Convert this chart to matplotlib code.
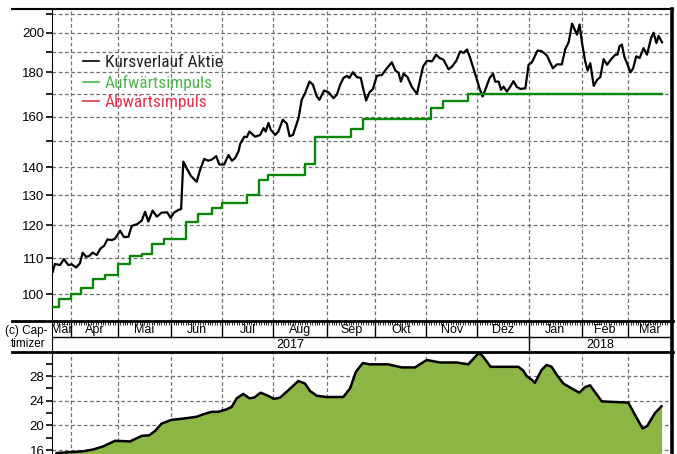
import matplotlib
matplotlib.use('Agg')
import matplotlib.pyplot as plt
from matplotlib.lines import Line2D
from matplotlib.ticker import FixedLocator, NullFormatter, FuncFormatter

month_labels = ['Mär', 'Apr', 'Mai', 'Jun', 'Jul', 'Aug', 'Sep', 'Okt', 'Nov', 'Dez', 'Jan', 'Feb', 'Mär']
month_days = [8, 19, 22, 21, 21, 22, 20, 21, 21, 21, 22, 19, 18]  # trading days per month
year_labels = ['2017', '2018']
year_months = [10, 3]

# stock price (trading day index, value)
price_day = [0.3, 1.2, 3.3, 4.9, 6.7, 8.1, 9.9, 11.5, 12.6, 14.0, 15.3, 16.7, 18.4, 20.0, 21.4,
             22.8, 24.6, 25.9, 28.0, 29.6, 31.4, 32.8, 35.1, 36.9, 38.3, 39.6, 41.4, 43.1, 45.1,
             47.4, 48.8, 50.2, 52.0, 53.1, 54.0, 55.4, 57.1, 59.5, 60.9, 62.6, 64.3, 66.0, 67.5,
             68.8, 70.8, 72.6, 74.0, 75.3, 76.7, 77.4, 79.1, 80.1, 81.2, 83.5, 85.6, 87.0, 87.9,
             89.0, 90.0, 91.8, 93.1, 94.9, 96.6, 97.7, 99.1, 101.4, 102.7, 104.1, 105.9, 107.3,
             108.9, 110.0, 111.9, 113.7, 115.8, 117.2, 118.5, 119.9, 121.3, 122.3, 123.7, 125.4,
             127.0, 128.1, 129.2, 130.6, 132.0, 133.6, 135.7, 137.7, 139.8, 141.2, 142.5, 143.5,
             144.6, 146.2, 148.0, 150.1, 151.4, 152.6, 154.2, 156.3, 158.0, 159.4, 161.0, 163.1,
             164.5, 166.3, 167.9, 169.3, 170.7, 172.0, 173.1, 174.8, 175.8, 177.1, 178.2, 180.0,
             181.4, 182.3, 183.7, 184.7, 185.7, 187.1, 188.5, 189.8, 191.2, 192.6, 194.7, 196.0,
             197.4, 199.7, 201.5, 203.6, 206.0, 207.7, 209.7, 211.1, 212.5, 213.9, 215.9, 217.0,
             218.0, 219.3, 220.3, 221.4, 222.8, 224.2, 225.5, 226.9, 228.3, 230.0, 231.7, 232.6,
             233.4, 234.4, 235.4, 236.5, 237.9, 239.0, 240.3, 241.7, 243.3, 244.7, 246.4, 247.4,
             248.6, 249.5, 250.9]
price = [106.1, 108.3, 108.0, 109.7, 108.0, 108.2, 107.3, 108.5, 111.6, 110.4, 110.6, 111.6, 110.9,
         112.9, 113.6, 115.6, 115.4, 115.8, 118.3, 116.3, 116.4, 119.8, 120.4, 121.5, 124.4, 121.2,
         124.8, 122.8, 124.1, 124.2, 122.4, 124.1, 125.0, 125.3, 142.1, 139.6, 136.8, 134.7, 139.0,
         143.1, 142.4, 143.0, 144.2, 141.0, 141.0, 144.6, 142.4, 143.4, 146.0, 148.9, 151.8, 151.6,
         153.9, 151.8, 152.5, 155.3, 153.9, 157.4, 154.6, 152.5, 153.9, 158.8, 157.1, 152.0, 152.5,
         159.5, 167.4, 170.4, 175.7, 174.3, 168.9, 167.4, 171.6, 170.8, 168.1, 169.8, 174.2, 177.4,
         178.4, 177.4, 180.1, 177.8, 177.4, 171.9, 167.1, 170.8, 172.3, 178.4, 178.8, 182.0, 184.9,
         180.9, 179.9, 175.7, 179.4, 177.8, 173.2, 170.1, 176.5, 182.8, 185.7, 185.4, 188.7, 187.0,
         186.2, 181.5, 182.8, 185.7, 190.4, 189.6, 191.3, 187.0, 182.8, 176.5, 172.6, 168.9, 171.9,
         177.4, 179.4, 175.7, 175.7, 171.9, 173.4, 171.1, 173.4, 175.9, 173.2, 172.3, 172.6, 183.7,
         184.9, 190.8, 190.4, 188.2, 182.0, 183.9, 183.9, 191.5, 195.0, 204.9, 199.0, 204.4, 194.6,
         185.4, 180.9, 184.5, 173.7, 176.5, 177.8, 186.5, 183.7, 186.5, 188.7, 188.7, 193.0, 193.8,
         187.6, 184.5, 180.0, 182.0, 187.9, 187.0, 192.0, 188.7, 197.2, 200.0, 194.6, 198.3, 195.0]

# Aufwärtsimpuls (step line)
up_day = [0, 3, 8, 12, 17, 22, 27, 32, 37, 41, 46, 55, 60, 66, 70, 80, 85, 89, 104, 108, 123,
          128, 156, 161, 171, 251]
up_level = [96.7, 98.6, 100.0, 101.7, 104.1, 105.2, 108.3, 110.6, 111.2, 114.1, 115.6, 121.0,
            123.6, 125.6, 127.2, 130.0, 135.2, 137.1, 141.2, 151.5, 155.1, 159.0, 164.0, 166.9,
            170.1, 170.1]

# lower panel
low_day = [1.9, 5.3, 12.9, 17.0, 21.1, 25.9, 32.1, 36.9, 40.0, 42.4, 45.1, 49.2, 54.0, 59.5, 62.2,
           65.7, 68.4, 71.8, 73.9, 76.0, 78.7, 81.1, 83.1, 85.8, 88.3, 91.3, 93.8, 97.2, 101.3,
           104.0, 106.1, 108.9, 113.0, 119.8, 122.6, 125.0, 127.8, 130.8, 133.5, 138.3, 143.8,
           149.3, 154.1, 159.6, 166.4, 171.2, 175.7, 177.4, 180.4, 185.6, 191.8, 193.8, 195.2,
           197.3, 198.6, 201.4, 203.4, 205.5, 207.6, 210.3, 213.7, 216.9, 219.2, 221.3, 226.1,
           230.8, 237.0, 239.8, 242.9, 244.8, 248.0, 250.7]
low_vals = [15.5, 15.6, 15.8, 16.1, 16.6, 17.5, 17.4, 18.3, 18.4, 19.1, 20.3, 20.9, 21.1, 21.4,
            21.8, 22.2, 22.2, 22.6, 23.0, 24.4, 25.1, 24.4, 24.5, 25.3, 24.9, 24.3, 24.5, 25.7,
            27.2, 26.8, 25.6, 24.8, 24.6, 24.6, 26.0, 28.7, 30.1, 29.9, 29.9, 29.9, 29.4, 29.4,
            30.6, 30.2, 30.2, 29.9, 31.8, 31.1, 29.5, 29.5, 29.5, 28.9, 28.0, 27.4, 26.9, 29.0,
            29.8, 29.5, 28.2, 26.8, 26.0, 25.3, 26.2, 26.5, 23.9, 23.8, 23.7, 21.7, 19.5, 19.9,
            22.0, 23.1]

W, H = 677, 454
XL, XR = 52, 672
Y_TOP, Y_MID, Y_LOW = 9, 321, 352

bounds = [0]
for d in month_days:
    bounds.append(bounds[-1] + d)
x_max = bounds[-1]
inner = bounds[1:-1]

grid_kw = dict(color='#707070', linestyle=(0, (3, 2)), linewidth=0.9)
tick_font = 'Liberation Sans'
legend_font = ['Roboto Condensed', 'Liberation Sans Narrow', 'DejaVu Sans']


def fx(px):
    return px / W


def fy(py):
    return 1 - py / H


fig = plt.figure(figsize=(W / 100, H / 100), dpi=100)
ax = fig.add_axes([fx(XL), fy(Y_MID), fx(XR - XL), (Y_MID - Y_TOP) / H])
axt = fig.add_axes([fx(XL), fy(Y_LOW), fx(XR - XL), (Y_LOW - Y_MID) / H])
axl = fig.add_axes([fx(XL), 0, fx(XR - XL), fy(Y_LOW)])

# upper panel
ax.plot(price_day, price, color='black', lw=1.6, zorder=3)
ax.plot(up_day, up_level, color='#0a870a', lw=1.7, drawstyle='steps-post', zorder=3)
ax.set_yscale('log')
ax.set_xlim(0, x_max)
ax.set_ylim(93.1, 213)
ax.yaxis.set_major_locator(FixedLocator([100, 110, 120, 130, 140, 160, 180, 200]))
ax.yaxis.set_major_formatter(FuncFormatter(lambda v, p: '%d' % v))
ax.yaxis.set_minor_locator(FixedLocator([150, 170, 190, 210]))
ax.yaxis.set_minor_formatter(NullFormatter())
ax.set_xticks(inner)
ax.set_xticklabels([])
ax.tick_params(axis='x', length=0)
ax.tick_params(axis='y', which='both', direction='out', length=4, width=1.2,
               labelsize=9.5, pad=1.5)
for lab in ax.get_yticklabels():
    lab.set_fontfamily(tick_font)
ax.grid(True, which='both', axis='y', **grid_kw)
ax.grid(True, which='major', axis='x', **grid_kw)
for s in ['top', 'bottom']:
    ax.spines[s].set_visible(False)
ax.spines['right'].set_linewidth(2.6)

handles = [Line2D([], [], color='black', lw=1.2),
           Line2D([], [], color='#4cb84c', lw=1.2),
           Line2D([], [], color='#e8334a', lw=1.2)]
leg = ax.legend(handles, ['Kursverlauf Aktie', 'Aufwärtsimpuls', 'Abwärtsimpuls'],
                loc='upper left', bbox_to_anchor=(0.05, 0.852), frameon=False,
                handlelength=0.9, handletextpad=0.35, labelspacing=0.25, borderpad=0,
                borderaxespad=0, prop={'family': legend_font, 'size': 12.5})
for t, c in zip(leg.get_texts(), ['#222222', '#4cb84c', '#e8334a']):
    t.set_color(c)

# time band
axt.set_xlim(0, x_max)
axt.set_ylim(0, 2)
axt.axhline(1, color='black', lw=1)
for b in inner:
    axt.plot([b, b], [1, 2], color='black', lw=1)
for i, lab in enumerate(month_labels):
    axt.text((bounds[i] + bounds[i + 1]) / 2, 1.45, lab, ha='center', va='center',
             fontsize=9, family=tick_font)
m = 0
for lab, n in zip(year_labels, year_months):
    a, b = bounds[m], bounds[m + n]
    axt.text((a + b) / 2, 0.45, lab, ha='center', va='center', fontsize=9, family=tick_font)
    if m > 0:
        axt.plot([a, a], [0, 1], color='black', lw=1)
    m += n
axt.set_xticks(list(range(0, x_max + 1)), minor=True)
axt.set_xticks([])
axt.set_yticks([])
axt.tick_params(axis='x', which='minor', top=True, bottom=False, direction='in',
                length=3, width=0.6, labelbottom=False)
for s in ['top', 'bottom']:
    axt.spines[s].set_visible(False)
axt.spines['right'].set_linewidth(2.6)

# lower panel
axl.fill_between(low_day, low_vals, 0, color='#8cb545', lw=0, zorder=2)
axl.plot(low_day, low_vals, color='black', lw=1.8, zorder=3)
axl.set_xlim(0, x_max)
axl.set_ylim(15.36, 31.9)
axl.yaxis.set_major_locator(FixedLocator([16, 20, 24, 28]))
axl.yaxis.set_minor_locator(FixedLocator([18, 22, 26, 30]))
axl.set_xticks(inner)
axl.set_xticklabels([])
axl.tick_params(axis='x', length=0)
axl.tick_params(axis='y', which='both', direction='out', length=4, width=1.2,
                labelsize=9.5, pad=1.5)
for lab in axl.get_yticklabels():
    lab.set_fontfamily(tick_font)
axl.grid(True, which='major', axis='both', **grid_kw)
for s in ['top', 'bottom']:
    axl.spines[s].set_visible(False)
axl.spines['right'].set_linewidth(2.6)

# frame lines reaching into the left margin
for py, lw in [(Y_TOP, 1.5), (Y_MID, 2.0), (Y_LOW, 2.0)]:
    fig.add_artist(Line2D([fx(12), fx(XR + 1)], [fy(py), fy(py)], color='black', lw=lw))

fig.text(fx(26), fy(331), '(c) Cap-', ha='center', va='center', fontsize=8.5, family=tick_font)
fig.text(fx(28), fy(344), 'timizer', ha='center', va='center', fontsize=8.5, family=tick_font)

fig.savefig('out.png', dpi=100)
